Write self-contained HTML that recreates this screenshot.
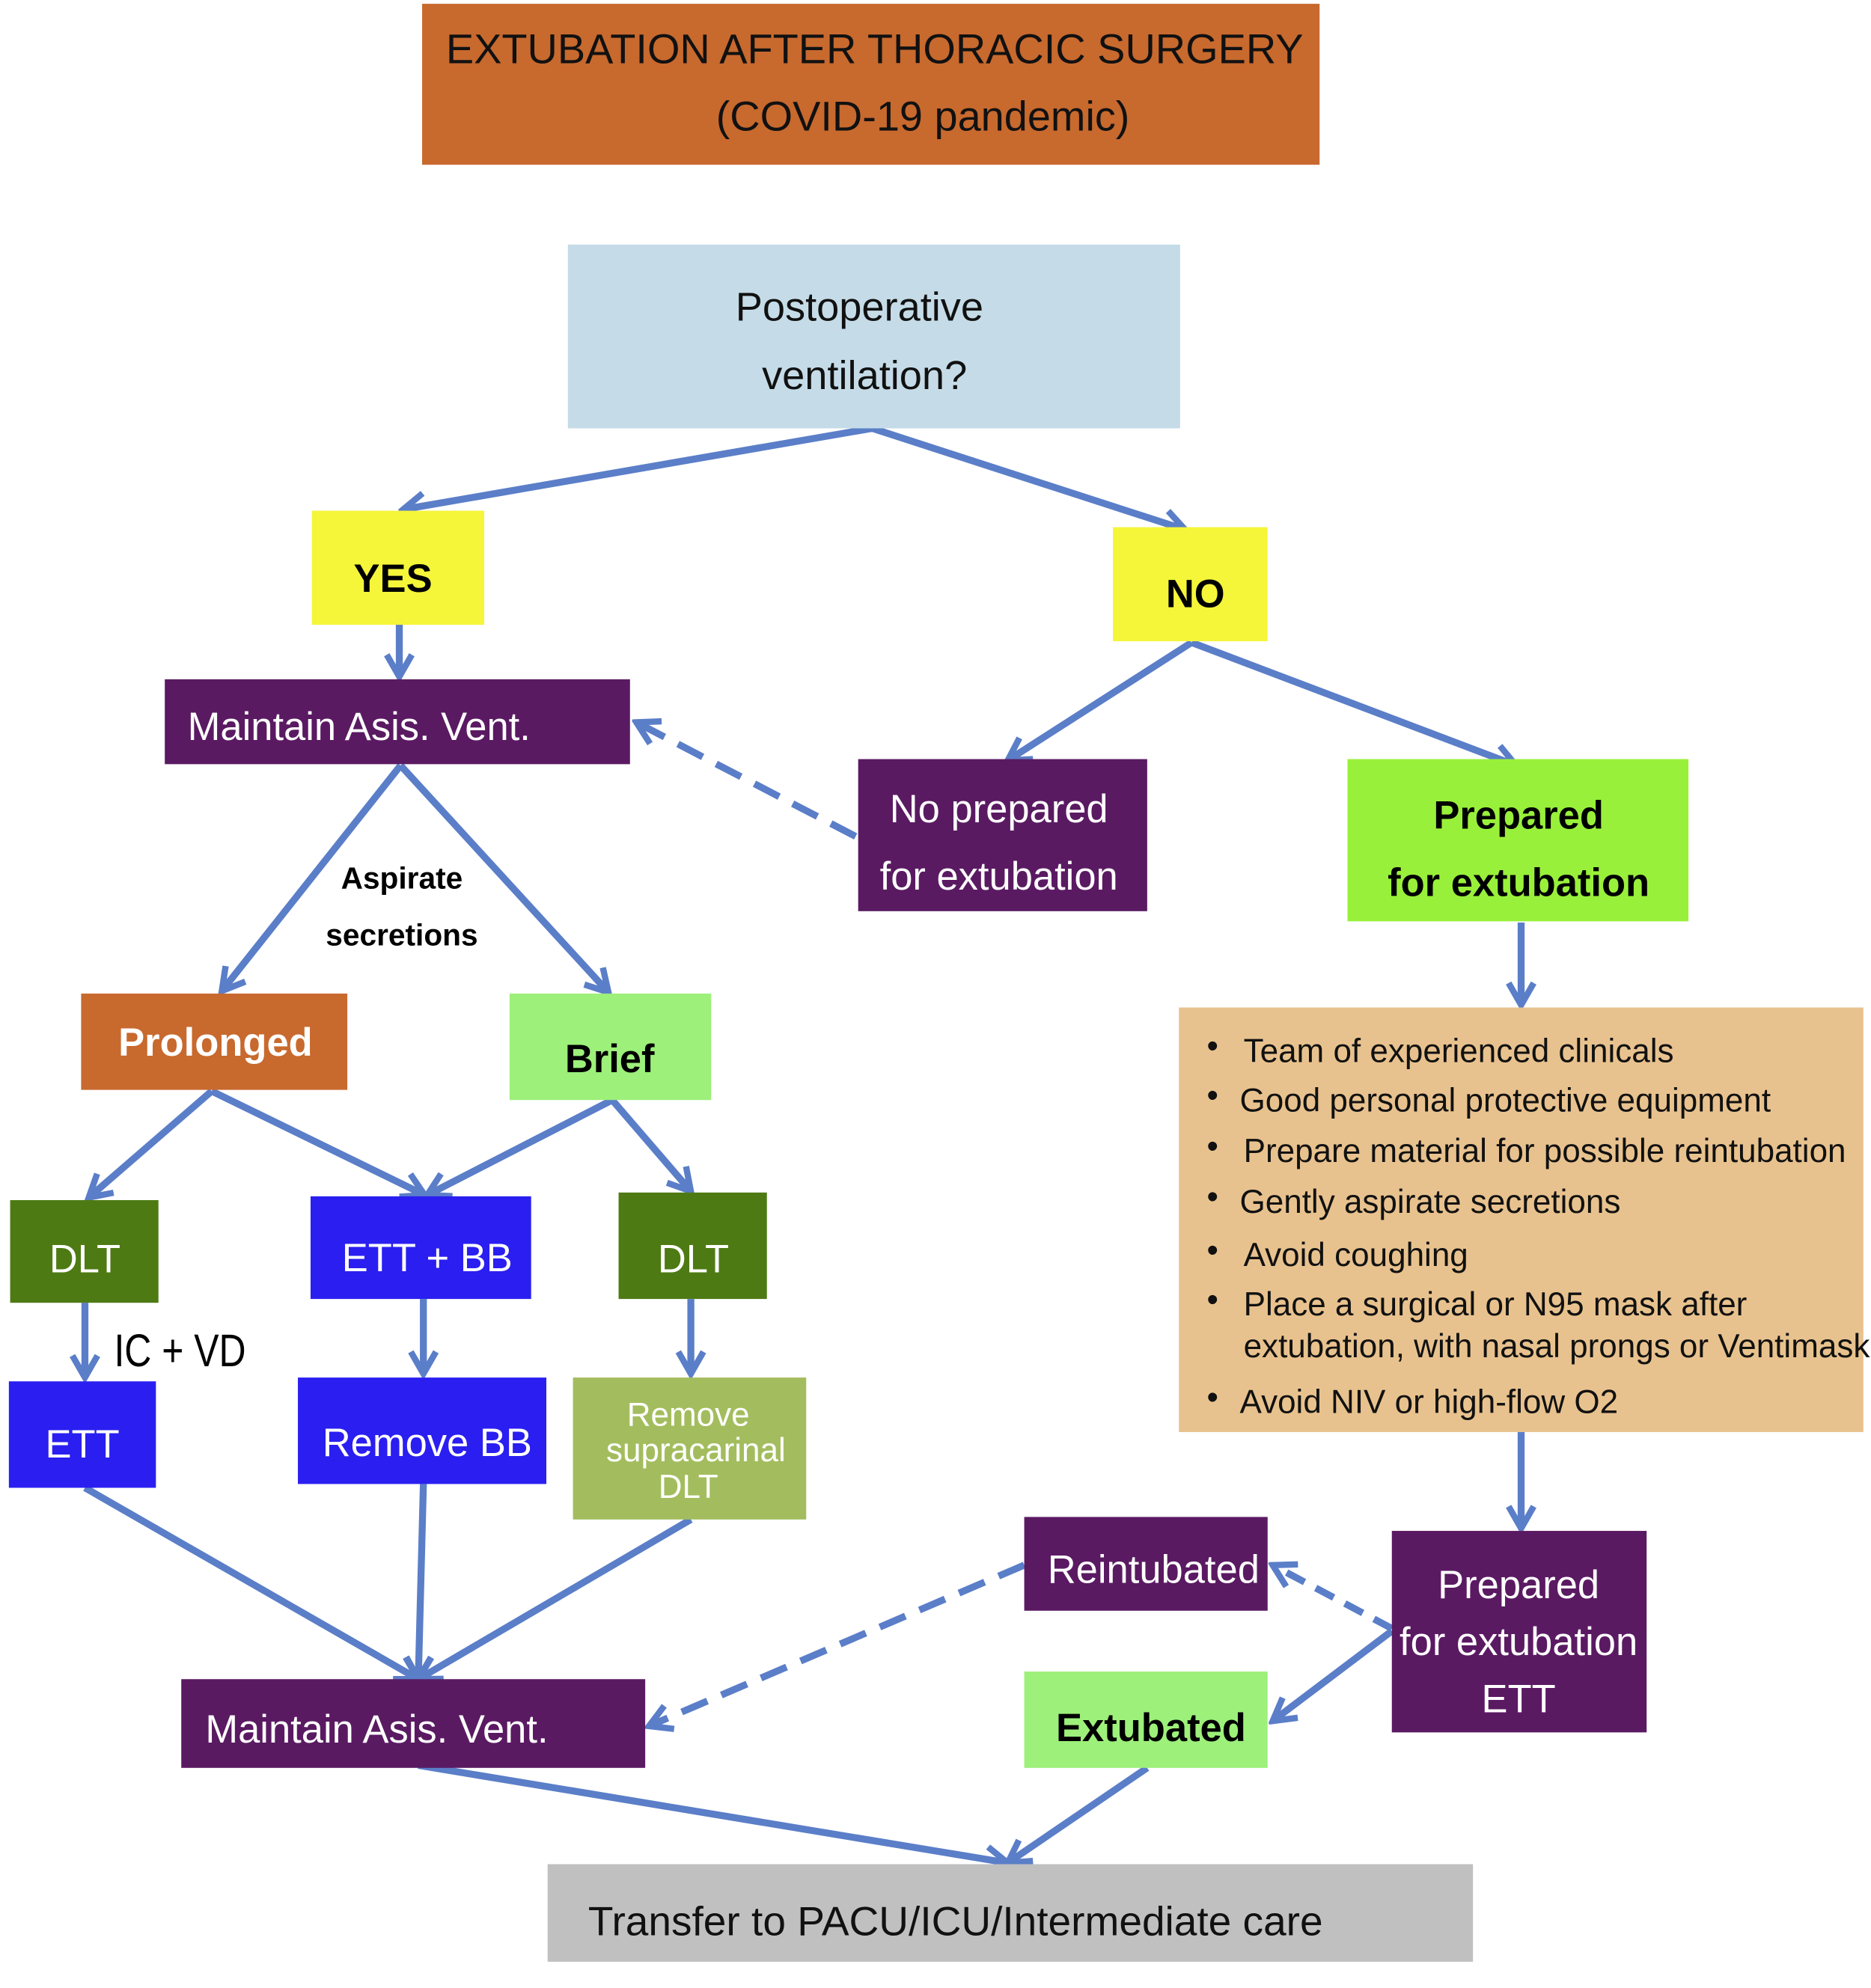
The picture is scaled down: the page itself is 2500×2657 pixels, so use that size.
<!DOCTYPE html>
<html><head><meta charset="utf-8"><style>
html,body{margin:0;padding:0;background:#fff;}
svg{display:block;}
text{font-family:"Liberation Sans",Arial,sans-serif;}
</style></head><body>
<svg width="2500" height="2657" viewBox="0 0 1476 1568.7" preserveAspectRatio="none" xmlns="http://www.w3.org/2000/svg">
<defs>
<marker id="a" viewBox="0 0 20 20" refX="17" refY="10" markerWidth="4.5" markerHeight="4.5" orient="auto" markerUnits="strokeWidth">
<path d="M3 2 L17 10 L3 18" fill="none" stroke="#5B7EC8" stroke-width="4"/>
</marker>
</defs>
<rect width="1476" height="1569" fill="#fff"/>
<g stroke="#5B7EC8" stroke-width="5.5" fill="none" marker-end="url(#a)">
<line x1="688" y1="338" x2="318" y2="402"/>
<line x1="688" y1="338" x2="935" y2="418"/>
<line x1="315" y1="493" x2="315" y2="534"/>
<line x1="316" y1="604" x2="175" y2="782"/>
<line x1="316" y1="604" x2="480" y2="783"/>
<line x1="940" y1="507" x2="795" y2="600"/>
<line x1="940" y1="507" x2="1196" y2="604"/>
<line x1="1200" y1="728" x2="1200" y2="793"/>
<line x1="167" y1="861" x2="70" y2="945"/>
<line x1="167" y1="861" x2="335" y2="943"/>
<line x1="483" y1="868" x2="337" y2="943"/>
<line x1="483" y1="868" x2="545" y2="940"/>
<line x1="67" y1="1028" x2="67" y2="1087"/>
<line x1="334" y1="1025" x2="334" y2="1084"/>
<line x1="545" y1="1025" x2="545" y2="1084"/>
<line x1="67" y1="1174" x2="330" y2="1325"/>
<line x1="334" y1="1171" x2="330" y2="1325"/>
<line x1="545" y1="1199" x2="330" y2="1325"/>
<line x1="1200" y1="1130" x2="1200" y2="1206"/>
<line x1="1098" y1="1287" x2="1004" y2="1358"/>
<line x1="330" y1="1393" x2="795" y2="1470"/>
<line x1="905" y1="1395" x2="795" y2="1470"/>
<line x1="675" y1="660" x2="502" y2="570" stroke-dasharray="22 12"/>
<line x1="1098" y1="1285" x2="1004" y2="1235" stroke-dasharray="16 10"/>
<line x1="808" y1="1235" x2="512" y2="1362" stroke-dasharray="22 12"/>
</g>
<rect x="333" y="3" width="708" height="127" fill="#C8692E"/>
<text x="690" y="50" font-size="33" text-anchor="middle" fill="#111">EXTUBATION AFTER THORACIC SURGERY</text>
<text x="728" y="103" font-size="33" text-anchor="middle" fill="#111">(COVID-19 pandemic)</text>

<rect x="448" y="193" width="483" height="145" fill="#C5DCE8"/>
<text x="678" y="253" font-size="32" text-anchor="middle" fill="#111">Postoperative</text>
<text x="682" y="307" font-size="32" text-anchor="middle" fill="#111">ventilation?</text>

<rect x="246" y="403" width="136" height="90" fill="#F5F53A"/>
<text x="310" y="467" font-size="31" font-weight="bold" text-anchor="middle">YES</text>
<rect x="878" y="416" width="122" height="90" fill="#F5F53A"/>
<text x="943" y="479" font-size="31" font-weight="bold" text-anchor="middle">NO</text>

<rect x="130" y="536" width="367" height="67" fill="#5A1A62"/>
<text x="148" y="584" font-size="31" fill="#fff">Maintain Asis. Vent.</text>

<rect x="677" y="599" width="228" height="120" fill="#5A1A62"/>
<text x="788" y="649" font-size="31" fill="#fff" text-anchor="middle">No prepared</text>
<text x="788" y="702" font-size="31" fill="#fff" text-anchor="middle">for extubation</text>

<rect x="1063" y="599" width="269" height="128" fill="#99F03A"/>
<text x="1198" y="654" font-size="31" font-weight="bold" text-anchor="middle">Prepared</text>
<text x="1198" y="707" font-size="31" font-weight="bold" text-anchor="middle">for extubation</text>

<text x="317" y="701" font-size="24" font-weight="bold" text-anchor="middle">Aspirate</text>
<text x="317" y="746" font-size="24" font-weight="bold" text-anchor="middle">secretions</text>

<rect x="64" y="784" width="210" height="76" fill="#C8692E"/>
<text x="170" y="833" font-size="31" font-weight="bold" fill="#fff" text-anchor="middle">Prolonged</text>
<rect x="402" y="784" width="159" height="84" fill="#9DF07A"/>
<text x="481" y="846" font-size="31" font-weight="bold" text-anchor="middle">Brief</text>

<rect x="8" y="947" width="117" height="81" fill="#4E7A14"/>
<text x="67" y="1004" font-size="31" fill="#fff" text-anchor="middle">DLT</text>
<rect x="245" y="944" width="174" height="81" fill="#2A1FF0"/>
<text x="337" y="1003" font-size="31" fill="#fff" text-anchor="middle">ETT + BB</text>
<rect x="488" y="941" width="117" height="84" fill="#4E7A14"/>
<text x="547" y="1004" font-size="31" fill="#fff" text-anchor="middle">DLT</text>

<text x="142" y="1078" font-size="36" text-anchor="middle" textLength="104" lengthAdjust="spacingAndGlyphs">IC + VD</text>

<rect x="7" y="1090" width="116" height="84" fill="#2A1FF0"/>
<text x="65" y="1150" font-size="31" fill="#fff" text-anchor="middle">ETT</text>
<rect x="235" y="1087" width="196" height="84" fill="#2A1FF0"/>
<text x="337" y="1149" font-size="31" fill="#fff" text-anchor="middle">Remove BB</text>
<rect x="452" y="1087" width="184" height="112" fill="#A3BD5E"/>
<text x="543" y="1125" font-size="26" fill="#fff" text-anchor="middle">Remove</text>
<text x="549" y="1153" font-size="26" fill="#fff" text-anchor="middle">supracarinal</text>
<text x="543" y="1182" font-size="26" fill="#fff" text-anchor="middle">DLT</text>

<rect x="930" y="795" width="540" height="335" fill="#E8C28E"/>
<g font-size="26" fill="#111">
<text x="952" y="834">•</text><text x="981" y="838">Team of experienced clinicals</text>
<text x="952" y="873">•</text><text x="978" y="877">Good personal protective equipment</text>
<text x="952" y="913">•</text><text x="981" y="917">Prepare material for possible reintubation</text>
<text x="952" y="953">•</text><text x="978" y="957">Gently aspirate secretions</text>
<text x="952" y="995">•</text><text x="981" y="999">Avoid coughing</text>
<text x="952" y="1034">•</text><text x="981" y="1038">Place a surgical or N95 mask after</text>
<text x="981" y="1071">extubation, with nasal prongs or Ventimask</text>
<text x="952" y="1111">•</text><text x="978" y="1115">Avoid NIV or high-flow O2</text>
</g>

<rect x="808" y="1197" width="192" height="74" fill="#5A1A62"/>
<text x="910" y="1249" font-size="31" fill="#fff" text-anchor="middle">Reintubated</text>
<rect x="1098" y="1208" width="201" height="159" fill="#5A1A62"/>
<text x="1198" y="1261" font-size="31" fill="#fff" text-anchor="middle">Prepared</text>
<text x="1198" y="1306" font-size="31" fill="#fff" text-anchor="middle">for extubation</text>
<text x="1198" y="1351" font-size="31" fill="#fff" text-anchor="middle">ETT</text>
<rect x="808" y="1319" width="192" height="76" fill="#9DF07A"/>
<text x="908" y="1374" font-size="31" font-weight="bold" text-anchor="middle">Extubated</text>

<rect x="143" y="1325" width="366" height="70" fill="#5A1A62"/>
<text x="162" y="1375" font-size="31" fill="#fff">Maintain Asis. Vent.</text>

<rect x="432" y="1471" width="730" height="77" fill="#C0C0C0"/>
<text x="464" y="1527" font-size="32.5" fill="#111">Transfer to PACU/ICU/Intermediate care</text>
</svg>
</body></html>
